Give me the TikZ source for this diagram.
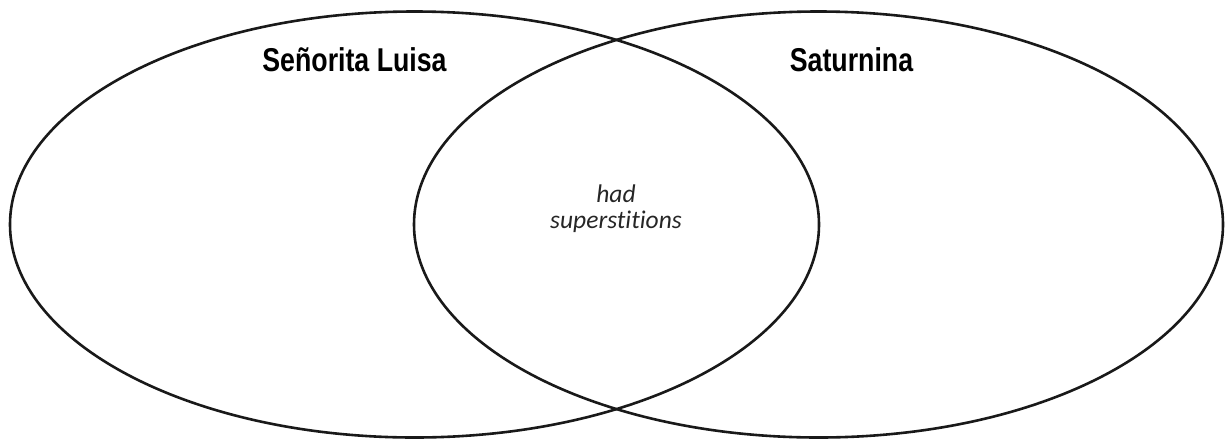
\documentclass[tikz,border=0pt]{standalone}
\usepackage{fontspec}
\newfontfamily\condfont[FakeStretch=0.81]{Liberation Sans}
\newfontfamily\handfont[Ligatures=NoCommon]{Carlito}
\tikzset{
  circ/.style={line width=2.6pt, draw=black!90},
  title/.style={font=\condfont\bfseries\fontsize{33}{36}\selectfont, anchor=base, inner sep=0pt},
  inner/.style={font=\handfont\itshape\fontsize{25.5}{26}\selectfont, align=center, anchor=base, inner sep=0pt, text=black!85}
}
\begin{document}
\begin{tikzpicture}[x=1pt,y=-1pt]
\useasboundingbox (0,0) rectangle (1231,440);
\draw[circ] (414.5,224.5) ellipse [x radius=404.5pt, y radius=213pt];
\draw[circ] (818.5,224.5) ellipse [x radius=404.5pt, y radius=213pt];
\node[title] (luisa) at (354.5,71) {Señorita Luisa};
\node[title] (saturnina) at (851.5,71) {Saturnina};
\node[inner] (had) at (616,202) {had};
\node[inner] (sup) at (616,228) {superstitions};
\end{tikzpicture}
\end{document}
